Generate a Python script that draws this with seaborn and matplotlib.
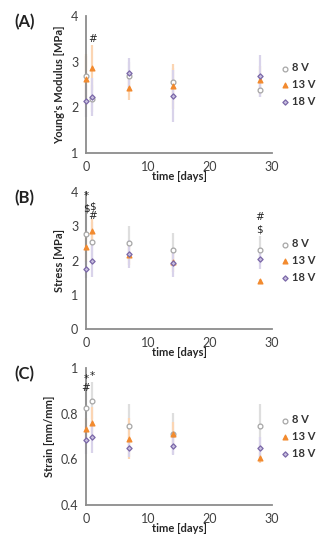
import numpy as np
import pandas as pd
import seaborn as sns
import matplotlib.pyplot as plt

# time points (days)
days = [0, 1, 7, 14, 28]
groups = ['8 V', '13 V', '18 V']

# (A) Young's modulus [MPa]
mod_8v = [2.68, 2.19, 2.69, 2.56, 2.37]
mod_13v = [2.61, 2.87, 2.43, 2.46, 2.60]
mod_18v = [2.13, 2.22, 2.75, 2.24, 2.69]
mod_8v_sd = [0.45, 0.30, 0.30, 0.30, 0.15]
mod_13v_sd = [0.55, 0.50, 0.28, 0.50, 0.30]
mod_18v_sd = [0.35, 0.42, 0.32, 0.57, 0.46]

# (B) stress [MPa]
str_8v = [2.76, 2.53, 2.52, 2.31, 2.31]
str_13v = [2.40, 2.85, 2.16, 1.96, 1.40]
str_18v = [1.75, 2.00, 2.19, 1.93, 2.05]
str_8v_sd = [0.90, 0.60, 0.50, 0.50, 0.40]
str_13v_sd = [0.45, 0.35, 0.30, 0.30, 0.05]
str_18v_sd = [0.25, 0.48, 0.40, 0.40, 0.30]

# (C) strain [mm/mm]
stn_8v = [0.824, 0.857, 0.744, 0.712, 0.744]
stn_13v = [0.732, 0.759, 0.691, 0.712, 0.608]
stn_18v = [0.685, 0.696, 0.649, 0.660, 0.649]
stn_8v_sd = [0.10, 0.08, 0.10, 0.09, 0.10]
stn_13v_sd = [0.05, 0.07, 0.09, 0.05, 0.025]
stn_18v_sd = [0.06, 0.07, 0.04, 0.04, 0.05]

# significance marks (day, y, symbol)
marks_a = [(1, 3.49, '#')]
marks_b = [(0, 3.89, '*'), (0, 3.52, '$'), (1, 3.57, '$'), (1, 3.30, '#'),
           (28, 3.27, '#'), (28, 2.91, '$')]
marks_c = [(0, 0.95, '*'), (0, 0.911, '#'), (1, 0.966, '*')]

colors = {'8 V': '#a6a6a6', '13 V': '#f28a2e', '18 V': '#7b68a8'}
err_colors = {'8 V': '#dedede', '13 V': '#fbd5b3', '18 V': '#d9d3ea'}
faces = {'8 V': 'white', '13 V': '#f28a2e', '18 V': '#c8bfe0'}
markers = {'8 V': 'o', '13 V': '^', '18 V': 'D'}
sizes = {'8 V': 12, '13 V': 12, '18 V': 7}

panels = [
    ('(A)', "Young's Modulus [MPa]", [mod_8v, mod_13v, mod_18v],
     [mod_8v_sd, mod_13v_sd, mod_18v_sd], (1, 4), [1, 2, 3, 4], marks_a, 0.7218),
    ('(B)', 'Stress [MPa]', [str_8v, str_13v, str_18v],
     [str_8v_sd, str_13v_sd, str_18v_sd], (0, 4), [0, 1, 2, 3, 4], marks_b, 0.4018),
    ('(C)', 'Strain [mm/mm]', [stn_8v, stn_13v, stn_18v],
     [stn_8v_sd, stn_13v_sd, stn_18v_sd], (0.4, 1), [0.4, 0.6, 0.8, 1], marks_c, 0.0818),
]

sns.set_style('white')
plt.rcParams['font.family'] = ['Lato', 'DejaVu Sans']

fig = plt.figure(figsize=(3.24, 5.5), dpi=100)

for letter, ylabel, vals, sds, ylim, yticks, marks, bottom in panels:
    ax = fig.add_axes([0.2654, bottom, 0.574, 0.2491])
    rows = []
    for g, v, s in zip(groups, vals, sds):
        for d, y, e in zip(days, v, s):
            rows.append({'day': d, 'value': y, 'sd': e, 'group': g})
    df = pd.DataFrame(rows)

    # error bars first (light)
    for g in groups:
        sub = df[df['group'] == g]
        ax.errorbar(sub['day'], sub['value'], yerr=sub['sd'], fmt='none',
                    ecolor=err_colors[g], elinewidth=1.6, capsize=0,
                    clip_on=False, zorder=1)

    for g in groups:
        sub = df[df['group'] == g]
        sns.scatterplot(data=sub, x='day', y='value', ax=ax,
                        marker=markers[g], s=sizes[g], color=faces[g],
                        edgecolor=colors[g], linewidth=0.9, label=g,
                        clip_on=False, zorder=3)

    for d, y, t in marks:
        ax.text(d, y, t, ha='center', va='center', fontsize=7.5,
                color='#222222', family='DejaVu Sans', zorder=4)

    ax.set_xlim(0, 30)
    ax.set_ylim(*ylim)
    ax.set_xticks([0, 10, 20, 30])
    ax.set_yticks(yticks)
    ax.set_yticklabels([f'{t:g}' for t in yticks])
    for side in ['top', 'right']:
        ax.spines[side].set_visible(False)
    for side in ['left', 'bottom']:
        ax.spines[side].set_color('#8c8c8c')
        ax.spines[side].set_linewidth(1.3)
    ax.tick_params(direction='inout', length=7, width=1.1, color='#8c8c8c',
                   labelsize=9, labelcolor='#404040', pad=2)
    ax.set_xlabel('time [days]', fontsize=8, fontweight='bold', labelpad=-1)
    ax.set_ylabel(ylabel, fontsize=8, fontweight='bold', labelpad=4)
    ax.set_facecolor('none')

    leg = ax.legend(loc='center left', bbox_to_anchor=(1.0, 0.5), frameon=False,
                    handletextpad=0.1, handlelength=1.0, labelspacing=0.5,
                    borderaxespad=0.3, markerscale=1.0,
                    prop={'size': 8, 'weight': 'bold'})
    for txt in leg.get_texts():
        txt.set_color('#333333')

    fig.text(0.045, bottom + 0.2491 - 0.012, letter, fontsize=12,
             fontweight='bold', color='#222222', va='center', ha='left')

fig.savefig('out.png', dpi=100)
